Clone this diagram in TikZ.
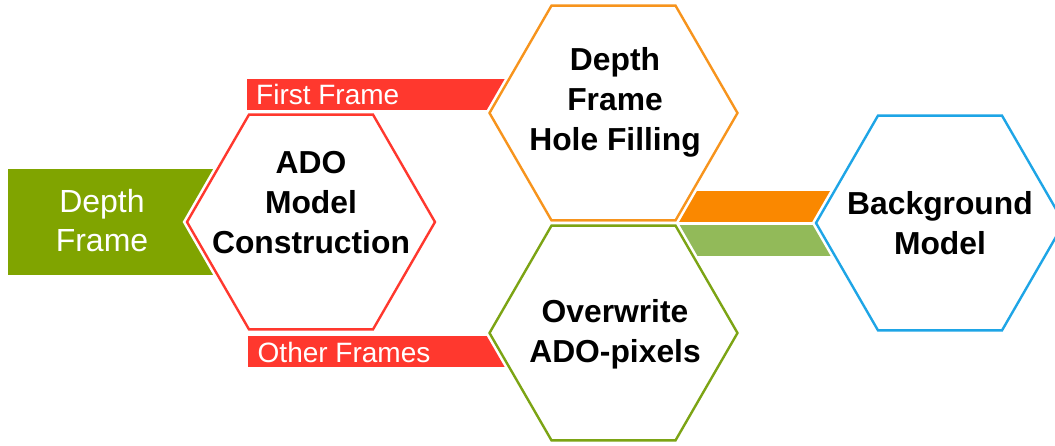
\documentclass[tikz,border=0pt]{standalone}
\usepackage{fontspec}
\setmainfont{Liberation Sans}
\definecolor{bannergreen}{RGB}{128,164,0}
\definecolor{barred}{RGB}{255,56,46}
\definecolor{barorange}{RGB}{250,136,0}
\definecolor{barlightgreen}{RGB}{146,186,89}
\definecolor{hexorange}{RGB}{247,148,29}
\definecolor{hexgreen}{RGB}{124,164,20}
\definecolor{hexblue}{RGB}{30,165,230}
\tikzset{
  pics/hexa/.style={code={
    \draw[white,line width=7.5pt,line join=miter]
      (-124,0) -- (-62,-107.4) -- (62,-107.4) -- (124,0) -- (62,107.4) -- (-62,107.4) -- cycle;
    \draw[draw=#1,line width=2.4pt,fill=white,line join=miter]
      (-124,0) -- (-62,-107.4) -- (62,-107.4) -- (124,0) -- (62,107.4) -- (-62,107.4) -- cycle;
  }},
  hextext/.style={align=center,inner sep=0pt,anchor=north,
    font=\fontsize{31.8}{40}\selectfont\bfseries},
  bannertext/.style={align=center,inner sep=0pt,anchor=north,text=white,
    font=\fontsize{32}{39}\selectfont},
  bartext/.style={inner sep=0pt,anchor=base west,text=white,
    font=\fontsize{28}{32}\selectfont},
}
\begin{document}
\begin{tikzpicture}[x=1pt,y=-1pt]
\useasboundingbox (0,0) rectangle (1055,446);

% coloured bands, partly hidden behind the hexagons
\fill[bannergreen] (8,169) rectangle (240,275);
\fill[barred] (247,79) rectangle (520,110);
\fill[barred] (248,336) rectangle (520,367);
\fill[barorange] (660,191) rectangle (845,222);
\fill[barlightgreen] (660,225) rectangle (845,256);

% hexagons
\pic (hexado) at (311,222) {hexa=barred};
\pic (hexfill) at (613.5,113) {hexa=hexorange};
\pic (hexover) at (613.5,333) {hexa=hexgreen};
\pic (hexbg) at (940,223) {hexa=hexblue};

% texts
\node[bannertext] (input) at (102,189) {Depth\\Frame};
\node[bartext] (first) at (256,104.3) {First Frame};
\node[bartext] (other) at (257.5,362.3) {Other Frames};
\node[hextext] (ado) at (311,151) {ADO\\Model\\Construction};
\node[hextext] (fill) at (615,47) {Depth\\Frame\\Hole Filling};
\node[hextext] (over) at (615,299.5) {Overwrite\\ADO-pixels};
\node[hextext] (bg) at (940,191.5) {Background\\Model};
\end{tikzpicture}
\end{document}
